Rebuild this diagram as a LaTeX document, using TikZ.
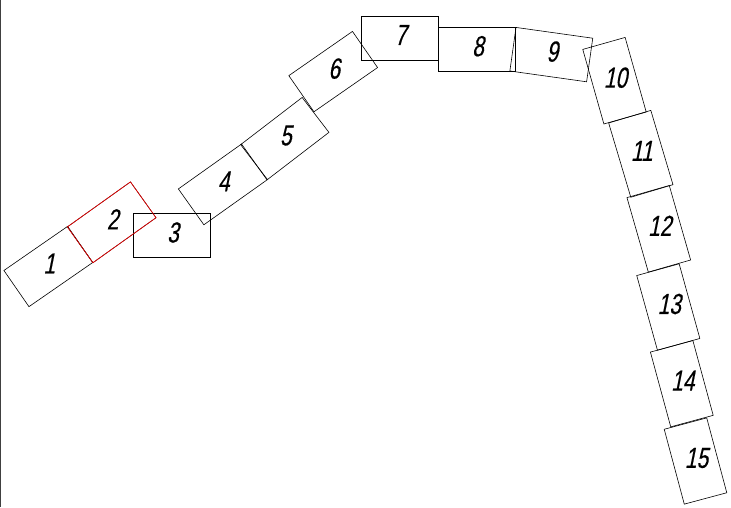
\documentclass[tikz,border=0pt]{standalone}
\usepackage{fontspec}
\newfontfamily\numfont[FakeSlant=0.2,FakeStretch=0.72,FakeBold=0.4]{Liberation Sans}
\begin{document}
\begin{tikzpicture}[x=1pt,y=-1pt,
        brick/.style={draw, line width=0.6pt, minimum width=77.5pt,
        minimum height=44pt, inner sep=0pt},
        num/.style={font=\numfont\fontsize{29}{29}\selectfont, inner sep=0pt,
        xshift=1pt, yshift=3pt}]
        \useasboundingbox (0,0) rectangle (731,507);
        \draw[black!75, line width=1.2pt] (0.6,0) -- (0.6,507);
        \foreach \n/\x/\y/\a in {1/48.3/266.5/34.7, 2/111.7/222.3/35.5,
            3/172/235.5/0, 4/222.7/184.4/35.4, 5/284.8/138.5/37.5,
            6/333.2/71.6/34.8, 7/399.7/38/0, 8/477/49.2/0,
            9/551.3/54.6/-8, 10/614.5/80.7/105.8, 11/640.8/153.8/106.6,
            12/658.8/228.8/106, 13/668.3/307/105.5, 14/681.8/383.7/105.2,
            15/695.5/461/105}
          \node[brick, rotate=\a] (b\n) at (\x,\y) {};
        \node[brick, draw=red, rotate=35.5] at (b2) {};
        \foreach \n in {1,...,15}
          \node[num] (t\n) at (b\n) {\n};
        \end{tikzpicture}
\end{document}
